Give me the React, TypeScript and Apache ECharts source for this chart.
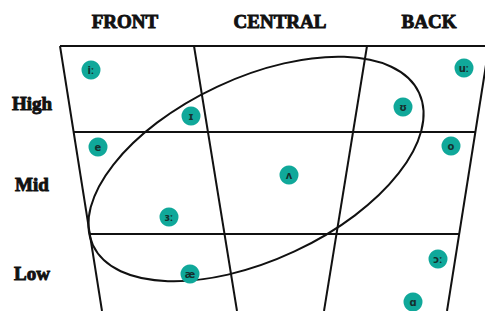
import React, { useEffect, useRef } from "react";
import * as echarts from "echarts";

// Column and row headings
const columnLabels = ["FRONT", "CENTRAL", "BACK"];
const rowLabels = ["High", "Mid", "Low"];

// Vowel symbols and their positions in chart space (x: front→back, y: high→low)
const vowelSymbols = ["iː", "ɪ", "e", "ɜː", "ʌ", "æ", "uː", "ʊ", "o", "ɔː", "ɑ"];
const vowelX = [91, 191, 98, 169, 289, 190, 464, 403, 451, 438, 413];
const vowelY = [70, 116, 147, 217, 175, 274, 68, 107, 146, 259, 302];

// Trapezoid outline and dividers, as segments [x1, y1, x2, y2]
const chartSegments = [
  [60, 46, 490, 46], // top edge
  [60, 46, 102, 311], // left edge
  [489, 46, 447, 311], // right edge
  [194, 46, 237, 311], // front/central divider
  [367, 46, 324, 311], // central/back divider
  [73.6, 132, 475.4, 132], // high/mid divider
  [89.7, 234, 460, 234], // mid/low divider
];

// Ellipse: [centerX, centerY, semiMajor, semiMinor, angleDeg]
const ellipseSpec = [256, 169, 180, 91, 25];

const W = 485;
const H = 311;

export default function App() {
  const ref = useRef<HTMLDivElement>(null);
  useEffect(() => {
    document.body.style.margin = "0";
    const chart = echarts.init(ref.current!, null, { renderer: "svg" });
    const lineSeries = chartSegments.map((s) => ({
      type: "line",
      data: [
        [s[0], s[1]],
        [s[2], s[3]],
      ],
      symbol: "none",
      lineStyle: { color: "#111", width: 2 },
      silent: true,
      z: 2,
    }));
    const headFont = {
      fontFamily: "Liberation Serif",
      fontWeight: "bold",
      fontSize: 19,
      fill: "#111",
      stroke: "#111",
      lineWidth: 0.9,
    };
    const colX = [125, 280, 429];
    const rowY = [103, 184, 273];
    chart.setOption({
      animation: false,
      grid: { left: 0, top: 0, right: 0, bottom: 0 },
      xAxis: { type: "value", min: 0, max: W, show: false },
      yAxis: { type: "value", min: 0, max: H, inverse: true, show: false },
      graphic: [
        ...columnLabels.map((t, i) => ({
          type: "text",
          x: colX[i],
          y: 21,
          style: { ...headFont, text: t, align: "center", verticalAlign: "middle" },
        })),
        ...rowLabels.map((t, i) => ({
          type: "text",
          x: 32,
          y: rowY[i],
          style: { ...headFont, text: t, align: "center", verticalAlign: "middle" },
        })),
      ],
      series: [
        ...lineSeries,
        {
          type: "custom",
          data: [ellipseSpec],
          silent: true,
          z: 3,
          renderItem: (params: any, api: any) => {
            const c = api.coord([api.value(0), api.value(1)]);
            const o = api.coord([0, 0]);
            const sx = api.coord([api.value(2), 0]);
            const sy = api.coord([0, api.value(3)]);
            return {
              type: "ellipse",
              x: c[0],
              y: c[1],
              rotation: (api.value(4) * Math.PI) / 180,
              shape: { cx: 0, cy: 0, rx: Math.abs(sx[0] - o[0]), ry: Math.abs(sy[1] - o[1]) },
              style: { fill: "none", stroke: "#111", lineWidth: 2 },
            };
          },
        },
        {
          type: "scatter",
          z: 5,
          symbolSize: 19,
          itemStyle: { color: "#10a89a", opacity: 1 },
          data: vowelSymbols.map((s, i) => ({ value: [vowelX[i], vowelY[i]], name: s })),
          label: {
            show: true,
            position: "inside",
            formatter: (p: any) => p.name,
            color: "#15302e",
            fontSize: 10,
            fontWeight: "bold",
            fontFamily: "DejaVu Sans",
          },
        },
      ],
    });
    return () => chart.dispose();
  }, []);
  return (
    <div
      ref={ref}
      style={{ position: "fixed", left: 0, top: 0, width: W, height: H, background: "#fff" }}
    />
  );
}
